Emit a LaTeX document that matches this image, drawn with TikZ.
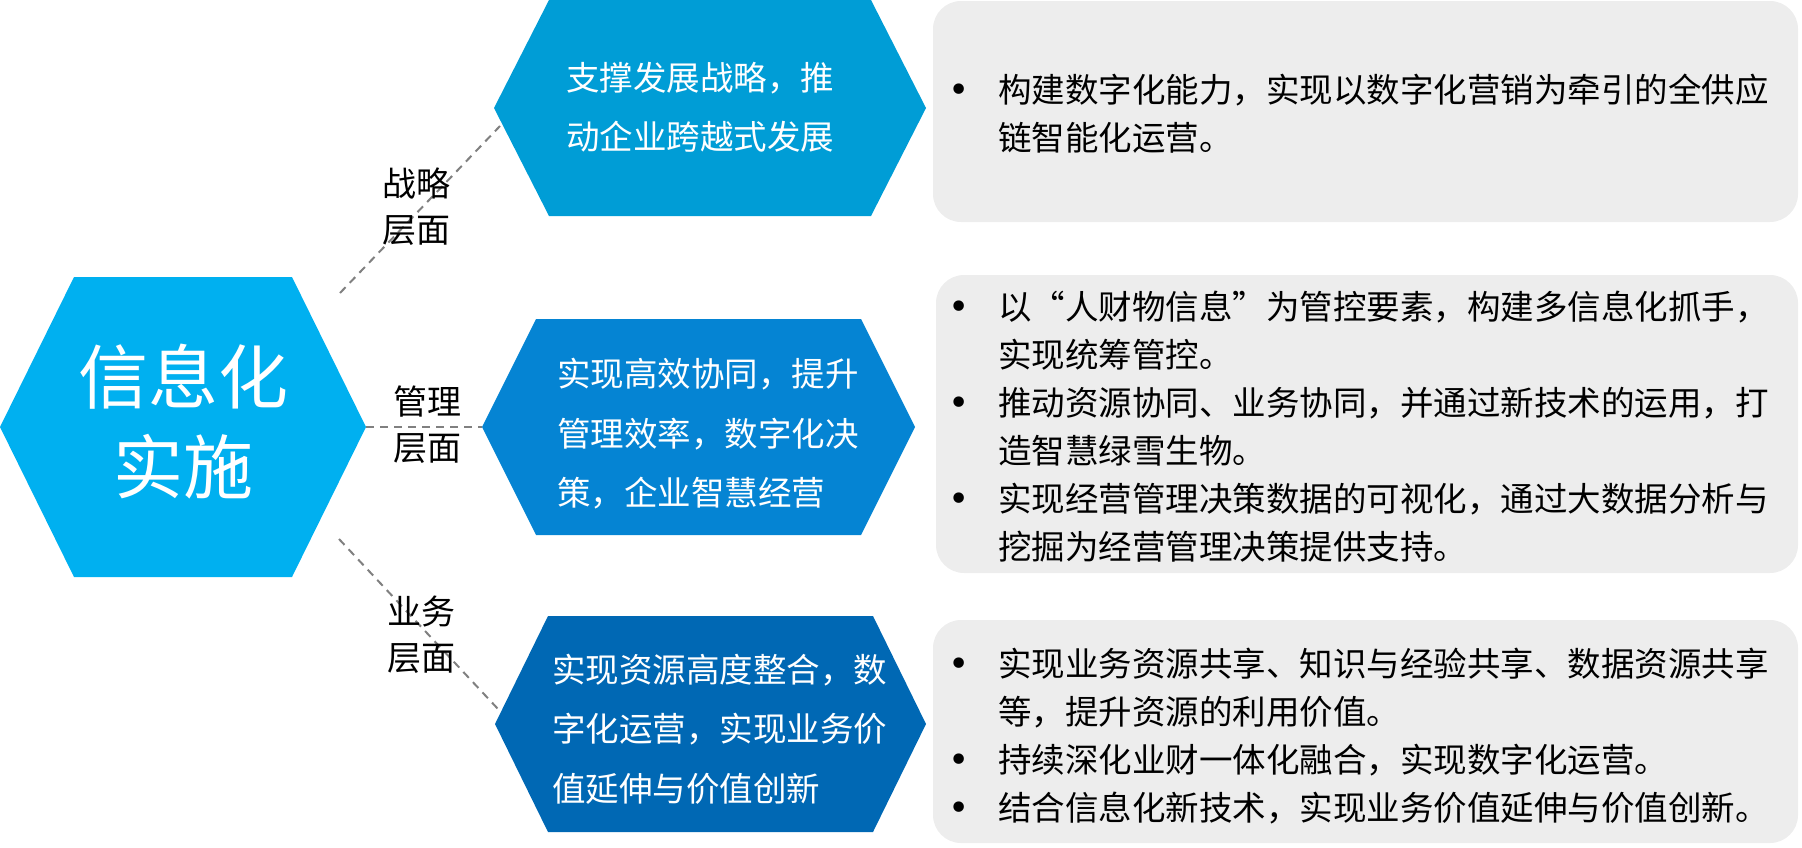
\documentclass[tikz,border=0pt]{standalone}
\usepackage{fontspec}
\setmainfont{Noto Sans CJK SC}
\newfontfamily\dotfont{DejaVu Sans}
\definecolor{infoblue}{HTML}{00B0F0}
\definecolor{stratblue}{HTML}{009DD6}
\definecolor{mgmtblue}{HTML}{0584D3}
\definecolor{bizblue}{HTML}{0068B4}
\definecolor{notegray}{HTML}{EDEDED}
\definecolor{linkgray}{HTML}{808080}
\newcommand{\bul}{\makebox[50pt][l]{\dotfont\fontsize{36}{36}\selectfont •}}
\newcommand{\ind}{\hspace*{50pt}}

\begin{document}
\begin{tikzpicture}[x=1pt,y=-1pt,
  hextext/.style={text=white,align=left,anchor=west,inner sep=0pt,font=\fontsize{33.5}{59.5}\selectfont},
  notetext/.style={align=left,anchor=west,inner sep=0pt,font=\fontsize{33.5}{48}\selectfont},
  layer/.style={align=center,inner sep=0pt,font=\fontsize{34}{46}\selectfont},
  notebox/.style={fill=notegray,rounded corners=28pt},
  link/.style={draw=linkgray,line width=2pt,dash pattern=on 8pt off 6pt}]
\useasboundingbox (0,0) rectangle (1802,847);

% hexagons
\fill[infoblue] (0,427) coordinate (info-w) -- (74,277) -- (292,277) -- (366,427) coordinate (info-e) -- (292,577) -- (74,577) -- cycle;
\fill[stratblue] (494,108) -- (549,0) -- (871,0) -- (926,108) -- (871,216) -- (549,216) -- cycle;
\fill[mgmtblue] (482,427) coordinate (mgmt-w) -- (536,319) -- (861,319) -- (915,427) -- (861,535) -- (536,535) -- cycle;
\fill[bizblue] (495,724) -- (548,616) -- (873,616) -- (926,724) -- (873,832) -- (548,832) -- cycle;

% grey boxes
\fill[notebox] (933,1) rectangle (1798,222);
\fill[notebox] (936,275) rectangle (1798,573);
\fill[notebox] (933,620) rectangle (1798,843);

% dashed links
\coordinate (strat-in) at (500,126);
\coordinate (strat-out) at (340,293);
\coordinate (biz-in) at (498,709);
\coordinate (biz-out) at (339,539);
\draw[link] (strat-out) -- (strat-in);
\draw[link] (info-e) -- (mgmt-w);
\draw[link] (biz-out) -- (biz-in);

% texts
\node[align=center,text=white,inner sep=0pt,font=\fontsize{70}{90}\selectfont] (info) at (183,422) {信息化\\实施};
\node[hextext] (strat) at (566,107.5) {支撑发展战略，推\\动企业跨越式发展};
\node[hextext] (mgmt) at (557,434) {实现高效协同，提升\\管理效率，数字化决\\策，企业智慧经营};
\node[hextext] (biz) at (552,729) {实现资源高度整合，数\\字化运营，实现业务价\\值延伸与价值创新};

\node[layer] (stratlayer) at (416,207) {战略\\层面};
\node[layer] (mgmtlayer) at (427,425) {管理\\层面};
\node[layer] (bizlayer) at (421,634.5) {业务\\层面};

\node[notetext] (stratnote) at (948,113.5) {\bul 构建数字化能力，实现以数字化营销为牵引的全供应\\\ind 链智能化运营。};
\node[notetext] (mgmtnote) at (948,426.7) {\bul 以“人财物信息”为管控要素，构建多信息化抓手，\\\ind 实现统筹管控。\\\bul 推动资源协同、业务协同，并通过新技术的运用，打\\\ind 造智慧绿雪生物。\\\bul 实现经营管理决策数据的可视化，通过大数据分析与\\\ind 挖掘为经营管理决策提供支持。};
\node[notetext] (biznote) at (948,735.7) {\bul 实现业务资源共享、知识与经验共享、数据资源共享\\\ind 等，提升资源的利用价值。\\\bul 持续深化业财一体化融合，实现数字化运营。\\\bul 结合信息化新技术，实现业务价值延伸与价值创新。};
\end{tikzpicture}
\end{document}
